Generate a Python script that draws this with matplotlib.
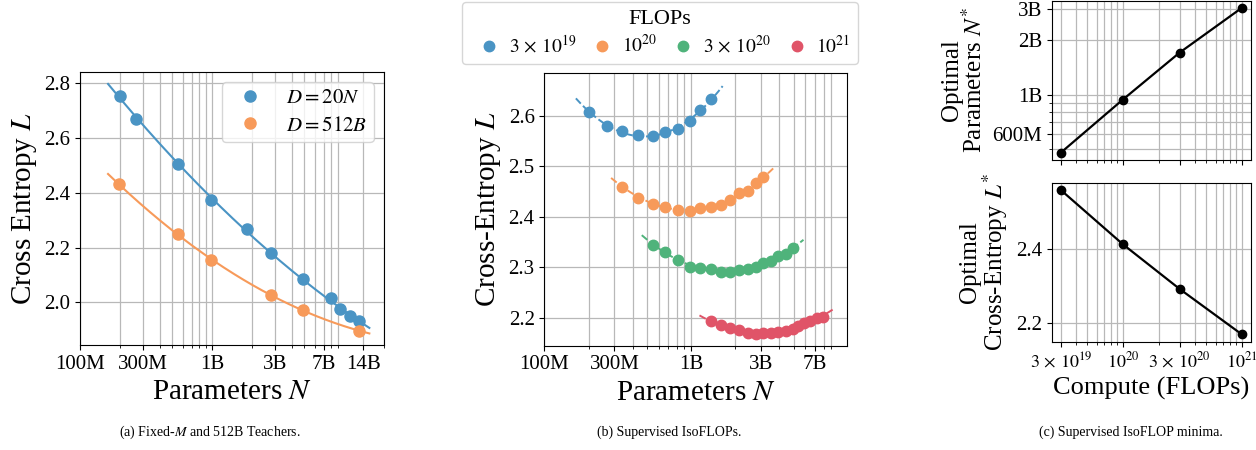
import numpy as np
import matplotlib
matplotlib.use('Agg')
import matplotlib.pyplot as plt
from matplotlib.ticker import FixedLocator, NullFormatter

plt.rcParams['font.family'] = 'serif'
plt.rcParams['font.serif'] = ['Liberation Serif', 'DejaVu Serif']
plt.rcParams['mathtext.fontset'] = 'stix'

BLUE = '#4a94c4'
ORANGE = '#f79a5a'
GREEN = '#4fb37b'
RED = '#e05468'

# (a) fixed-M and 512B teachers
n_20n = [2.0e8, 2.67e8, 5.5e8, 9.8e8, 1.85e9, 2.78e9, 4.88e9, 7.9e9, 9.3e9, 1.1e10, 1.29e10]
l_20n = [2.754, 2.668, 2.505, 2.372, 2.268, 2.180, 2.084, 2.018, 1.975, 1.950, 1.932]
n_512b = [1.98e8, 5.5e8, 9.8e8, 2.78e9, 4.88e9, 1.29e10]
l_512b = [2.430, 2.248, 2.156, 2.029, 1.971, 1.897]
fit_range_a = (1.63e8, 1.55e10)

# (b) supervised isoflops
flops_labels = [r'$3\,\times\,10^{19}$', r'$10^{20}$', r'$3\,\times\,10^{20}$', r'$10^{21}$']
flops_colors = [BLUE, ORANGE, GREEN, RED]
iso_n = [
    [2.0e8, 2.66e8, 3.4e8, 4.37e8, 5.53e8, 6.65e8, 8.11e8, 9.84e8, 1.15e9, 1.37e9],
    [3.4e8, 4.37e8, 5.53e8, 6.65e8, 8.11e8, 9.84e8, 1.15e9, 1.37e9, 1.59e9, 1.84e9,
     2.13e9, 2.43e9, 2.76e9, 3.11e9],
    [5.53e8, 6.65e8, 8.11e8, 9.84e8, 1.15e9, 1.37e9, 1.59e9, 1.84e9, 2.13e9, 2.43e9,
     2.76e9, 3.11e9, 3.49e9, 3.90e9, 4.42e9, 4.91e9],
    [1.37e9, 1.59e9, 1.84e9, 2.13e9, 2.43e9, 2.76e9, 3.11e9, 3.49e9, 3.90e9, 4.42e9,
     4.91e9, 5.39e9, 5.89e9, 6.48e9, 7.19e9, 7.91e9],
]
iso_l = [
    [2.608, 2.580, 2.570, 2.562, 2.560, 2.567, 2.573, 2.590, 2.611, 2.634],
    [2.460, 2.438, 2.426, 2.420, 2.413, 2.412, 2.418, 2.420, 2.424, 2.433,
     2.447, 2.451, 2.466, 2.479],
    [2.345, 2.331, 2.314, 2.301, 2.299, 2.296, 2.291, 2.291, 2.294, 2.296,
     2.301, 2.308, 2.313, 2.322, 2.327, 2.338],
    [2.193, 2.185, 2.180, 2.176, 2.170, 2.169, 2.171, 2.170, 2.172, 2.174,
     2.179, 2.184, 2.189, 2.194, 2.199, 2.201],
]
iso_fit_range = [(1.64e8, 1.64e9), (2.85e8, 3.74e9), (4.61e8, 5.83e9), (1.14e9, 9.33e9)]

# (c) isoflop minima
compute = [3e19, 1e20, 3e20, 1e21]
n_opt = [4.75e8, 9.38e8, 1.71e9, 3.03e9]
l_opt = [2.558, 2.412, 2.292, 2.170]


def quad_fit(x, y, lo, hi):
    c = np.polyfit(np.log10(x), y, 2)
    xs = np.logspace(np.log10(lo), np.log10(hi), 200)
    return xs, np.polyval(c, np.log10(xs))


def minor_log(lo_exp, hi_exp):
    return [m * 10.0 ** e for e in range(lo_exp, hi_exp) for m in range(2, 10)]


fig = plt.figure(figsize=(12.56, 4.5), dpi=100)

# ---- panel a
ax = fig.add_axes([0.0637, 0.2333, 0.2420, 0.6067])
ax.set_xscale('log')
for n, l, col, lab in [(n_20n, l_20n, BLUE, r'$D = 20N$'), (n_512b, l_512b, ORANGE, r'$D = 512B$')]:
    xs, ys = quad_fit(n, l, *fit_range_a)
    ax.plot(xs, ys, color=col, lw=1.5, zorder=2)
    ax.plot(n, l, 'o', color=col, ms=8, label=lab, zorder=3)
ax.set_xlim(1e8, 2e10)
ax.set_ylim(1.845, 2.84)
ax.xaxis.set_major_locator(FixedLocator([1e8, 3e8, 1e9, 3e9, 7e9, 1.4e10]))
ax.set_xticklabels(['100M', '300M', '1B', '3B', '7B', '14B'])
ax.xaxis.set_minor_locator(FixedLocator(minor_log(8, 11)))
ax.xaxis.set_minor_formatter(NullFormatter())
ax.set_yticks([2.0, 2.2, 2.4, 2.6, 2.8])
ax.grid(True, which='both', color='#b8b8b8', lw=0.9, zorder=0)
ax.set_axisbelow(True)
ax.tick_params(labelsize=15)
ax.set_xlabel(r'Parameters $N$', fontsize=21)
ax.set_ylabel(r'Cross Entropy $L$', fontsize=21)
ax.legend(loc='upper right', fontsize=15, handlelength=2.1, handletextpad=0.7,
          borderpad=0.3, labelspacing=0.37, framealpha=0.8)

# ---- panel b
ax = fig.add_axes([0.4334, 0.2318, 0.2408, 0.6053])
ax.set_xscale('log')
for n, l, col, lab, rng in zip(iso_n, iso_l, flops_colors, flops_labels, iso_fit_range):
    xs, ys = quad_fit(n, l, *rng)
    ax.plot(xs, ys, '--', color=col, lw=1.4, zorder=2)
    ax.plot(n, l, 'o', color=col, ms=7.5, label=lab, zorder=3)
ax.set_xlim(1e8, 1.15e10)
ax.set_ylim(2.145, 2.684)
ax.xaxis.set_major_locator(FixedLocator([1e8, 3e8, 1e9, 3e9, 7e9]))
ax.set_xticklabels(['100M', '300M', '1B', '3B', '7B'])
ax.xaxis.set_minor_locator(FixedLocator(minor_log(8, 11)))
ax.xaxis.set_minor_formatter(NullFormatter())
ax.set_yticks([2.2, 2.3, 2.4, 2.5, 2.6])
ax.grid(True, which='both', color='#b8b8b8', lw=0.9, zorder=0)
ax.set_axisbelow(True)
ax.tick_params(labelsize=15)
ax.set_xlabel(r'Parameters $N$', fontsize=21)
ax.set_ylabel(r'Cross-Entropy $L$', fontsize=21)
handles, labels = ax.get_legend_handles_labels()
fig.legend(handles, labels, loc='upper center', bbox_to_anchor=(660 / 1256, 0.996), ncol=4,
           title='FLOPs', fontsize=14, title_fontsize=16, columnspacing=0.35,
           handlelength=2.0, handletextpad=0.0, borderpad=0.4, borderaxespad=0.0,
           labelspacing=0.3, framealpha=0.8)

# ---- panel c
axt = fig.add_axes([0.8373, 0.6444, 0.1587, 0.3544])
axb = fig.add_axes([0.8373, 0.2407, 0.1587, 0.3533], sharex=axt)
axt.plot(compute, n_opt, 'o-', color='black', ms=6, lw=1.6)
axb.plot(compute, l_opt, 'o-', color='black', ms=6, lw=1.6)
axt.set_xscale('log')
axt.set_yscale('log')
axt.yaxis.set_major_locator(FixedLocator([6e8, 1e9, 2e9, 3e9]))
axt.set_yticklabels(['600M', '1B', '2B', '3B'])
axt.yaxis.set_minor_locator(FixedLocator([5e8, 7e8, 8e8, 9e8]))
axt.yaxis.set_minor_formatter(NullFormatter())
axb.set_yticks([2.2, 2.4])
axb.xaxis.set_major_locator(FixedLocator(compute))
axb.xaxis.set_minor_locator(FixedLocator(minor_log(19, 21)))
axb.xaxis.set_minor_formatter(NullFormatter())
axb.set_xticklabels(flops_labels)
plt.setp(axt.get_xticklabels(), visible=False)
for a in (axt, axb):
    a.grid(True, which='both', color='#b8b8b8', lw=0.9, zorder=0)
    a.set_axisbelow(True)
    a.tick_params(axis='y', labelsize=15)
    a.tick_params(axis='x', labelsize=13)
axt.set_ylabel('Optimal\n' + r'Parameters $N^{*}$', fontsize=18, linespacing=0.95)
axb.set_ylabel('Optimal\n' + r'Cross-Entropy $L^{*}$', fontsize=18, linespacing=0.95)
axb.set_xlabel('Compute (FLOPs)', fontsize=19)

# captions
fig.text(0.167, 0.04, r'(a) Fixed-$M$ and 512B Teachers.', ha='center', va='center', fontsize=10)
fig.text(0.533, 0.04, '(b) Supervised IsoFLOPs.', ha='center', va='center', fontsize=10)
fig.text(0.90, 0.04, '(c) Supervised IsoFLOP minima.', ha='center', va='center', fontsize=10)

fig.savefig('out.png', dpi=100)
